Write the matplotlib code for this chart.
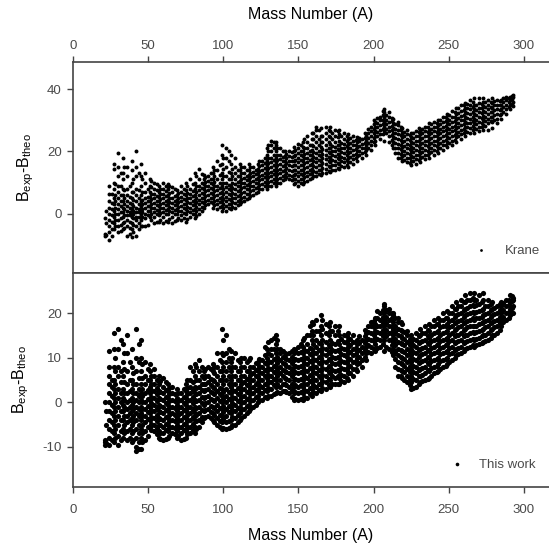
import matplotlib
matplotlib.use('Agg')
import matplotlib.pyplot as plt

# mass number of each column of points
mass = [21, 24, 27, 30, 33, 36, 39, 42, 45, 48, 51, 54, 57, 60, 63, 66, 69, 72, 75, 78, 81, 84, 87, 90,
        93, 96, 99, 102, 105, 108, 111, 114, 117, 120, 123, 126, 129, 132, 135, 138, 141, 144, 147, 150,
        153, 156, 159, 162, 165, 168, 171, 174, 177, 180, 183, 186, 189, 192, 195, 198, 201, 204, 207, 210,
        213, 216, 219, 222, 225, 228, 231, 234, 237, 240, 243, 246, 249, 252, 255, 258, 261, 264, 267, 270,
        273, 276, 279, 282, 285, 288, 291, 293]

krane = [
    [-7, -6.5, -1.5],
    [-8.5, -6, -4, -2, 0, 2, 4, 6.5, 9],
    [-5, -3, -1, 1, 3, 5, 8, 10, 14.5, 16],
    [-6, -4, -2, 0, 1.5, 3, 5, 7, 9, 12, 15, 19.5],
    [-5, -3, -1, 0.5, 2, 4, 6, 8, 11, 13, 18],
    [-7, -4, -2, -0.5, 1, 2.5, 4, 6, 8, 12, 15],
    [-7.5, -5, -3, -1, 0, 1.5, 3, 5, 7, 10, 14, 17],
    [-7, -4, -2, -1, 0.5, 2, 4, 6, 8, 12, 15, 20],
    [-4, -2, 0, 1, 2.5, 4, 6, 9, 12, 16],
    [-4, -1.5, 0, 2, 3.5, 5, 7, 10, 13],
    [-1, 1, 2.5, 4, 5.5, 7, 9, 11],
    [-3, -1, 0.5, 2, 3.5, 5, 6.5, 8, 10],
    [-2.5, -0.5, 1, 2.5, 4, 5.5, 7, 9],
    [-3, -1, 0.5, 2, 3.5, 5, 6.5, 8, 10],
    [-2.5, 0, 1.5, 3, 4.5, 6, 8, 9.5],
    [-3, -1, 0.5, 2, 3.5, 5, 7, 8.5],
    [-2, 0, 1.5, 3, 4.5, 6, 7.5],
    [-2, -0.5, 1, 2.5, 4, 5.5, 7, 9],
    [-2.5, 0, 1.5, 3, 4.5, 6, 7.5, 10],
    [-1, 0.5, 2, 3.5, 5, 6.5, 8, 11],
    [-1.5, 0, 1.5, 3, 4.5, 6, 8, 10, 13],
    [0, 1.5, 3, 4.5, 6, 7.5, 9, 11, 14.5],
    [2, 3.5, 5, 6.5, 8, 9.5, 11, 12.5],
    [3, 4.5, 6, 7.5, 9, 10.5, 12],
    [2, 3.5, 5, 6.5, 8, 9.5, 11, 13, 15],
    [1.5, 3, 4.5, 6, 7.5, 9, 11, 14, 17],
    [1, 2.5, 4, 5.5, 7, 9, 11, 13, 16, 19, 22],
    [1, 2.5, 4, 5.5, 7, 8.5, 10, 12, 15, 18, 21],
    [1.5, 3, 4.5, 6, 7.5, 9, 11, 13, 16, 19],
    [2, 3.5, 5, 6.5, 8, 9.5, 11, 13, 15, 18],
    [3, 4.5, 6, 7.5, 9, 10.5, 12, 14, 16],
    [4, 5.5, 7, 8.5, 10, 11.5, 13, 15],
    [5, 6.5, 8, 9.5, 11, 12.5, 14, 16],
    [6, 7.5, 9, 10.5, 12, 13.5, 15],
    [7, 8.5, 10, 11.5, 13, 14.5, 16],
    [8, 9.5, 11, 12.5, 14, 15.5, 17],
    [8, 9.5, 11, 12.5, 14, 15.5, 17, 19, 21],
    [9, 10.5, 12, 13.5, 15, 16.5, 18, 20, 22, 23.5],
    [9, 10.5, 12, 13.5, 15, 16.5, 18, 20, 22, 23],
    [10, 11.5, 13, 14.5, 16, 17.5, 19, 21],
    [11, 12.5, 14, 15.5, 17, 18.5, 20],
    [11, 12.5, 14, 15.5, 17, 18.5, 20],
    [9.5, 11, 12.5, 14, 15.5, 17, 18.5, 20, 21.5],
    [9, 10.5, 12, 13.5, 15, 16.5, 18, 19.5, 21, 22.5],
    [9.5, 11, 12.5, 14, 15.5, 17, 18.5, 20, 21.5, 23],
    [10.5, 12, 13.5, 15, 16.5, 18, 19.5, 21, 23, 25],
    [11.5, 13, 14.5, 16, 17.5, 19, 20.5, 22, 24, 26],
    [12, 13.5, 15, 16.5, 18, 19.5, 21, 23, 25, 27, 28],
    [12.5, 14, 15.5, 17, 18.5, 20, 21.5, 23, 25, 27.5],
    [13, 14.5, 16, 17.5, 19, 20.5, 22, 24, 26, 28],
    [13.5, 15, 16.5, 18, 19.5, 21, 22.5, 24.5, 26.5, 28],
    [14, 15.5, 17, 18.5, 20, 21.5, 23, 25, 27],
    [14.5, 16, 17.5, 19, 20.5, 22, 23.5, 25.5, 27],
    [15, 16.5, 18, 19.5, 21, 22.5, 24, 26],
    [15, 16.5, 18, 19.5, 21, 22.5, 24, 25.5],
    [16, 17.5, 19, 20.5, 22, 23.5, 25],
    [17, 18.5, 20, 21.5, 23, 24.5],
    [18, 19.5, 21, 22.5, 24],
    [19, 20.5, 22, 23.5, 25],
    [20.5, 22, 23.5, 25, 26.5, 28],
    [22, 23.5, 25, 26.5, 28, 29.5],
    [24, 25.5, 27, 28.5, 30, 31],
    [23.5, 26.5, 28, 29.5, 31, 32.5, 33.5],
    [23, 25, 26.5, 28, 29.5, 31, 32.5],
    [21, 23, 24.5, 26, 27.5, 29, 30.5],
    [18, 19.5, 21, 22.5, 24, 25.5, 27, 28.5, 29.5],
    [17, 18.5, 20, 21.5, 23, 24.5, 26, 27.5],
    [16.5, 18, 19.5, 21, 22.5, 24, 25.5, 27],
    [15.5, 17, 18.5, 20, 21.5, 23, 24.5, 26],
    [16, 17.5, 19, 20.5, 22, 23.5, 25, 26.5],
    [16.5, 18, 19.5, 21, 22.5, 24, 25.5, 27],
    [17.5, 19, 20.5, 22, 23.5, 25, 26.5, 28],
    [18, 19.5, 21, 22.5, 24, 25.5, 27, 29],
    [19, 20.5, 22, 23.5, 25, 26.5, 28, 29.5],
    [19.5, 21, 22.5, 24, 25.5, 27, 28.5, 30],
    [20.5, 22, 23.5, 25, 26.5, 28, 29.5, 31],
    [21.5, 23, 24.5, 26, 27.5, 29, 30.5, 32],
    [22, 23.5, 25, 26.5, 28, 29.5, 31, 33],
    [23, 24.5, 26, 27.5, 29, 30.5, 32, 34],
    [24, 25.5, 27, 28.5, 30, 31.5, 33, 35],
    [25, 26.5, 28, 29.5, 31, 32.5, 34, 35.5],
    [26, 27.5, 29, 30.5, 32, 33.5, 35, 36.5],
    [26, 27.5, 29, 30.5, 32, 33.5, 35, 37],
    [26.5, 28, 29.5, 31, 32.5, 34, 35.5, 37],
    [27, 28.5, 30, 31.5, 33, 34.5, 36, 37],
    [27, 29, 30.5, 32, 33.5, 35, 36.5],
    [27.5, 29.5, 31, 32.5, 34, 35.5, 37],
    [29, 30.5, 32, 33.5, 35, 36.5],
    [30.5, 32, 33.5, 35, 36.5],
    [32, 33.5, 35, 36.5, 37.5],
    [33.5, 35, 36.5, 37.5],
    [34.5, 36, 37.5, 38],
]

this_work = [
    [-9.5, -9, -8.5, 0],
    [-9.5, -8, -6, -4, -2, 0, 2, 4, 6, 8, 11.5],
    [-9, -7, -5, -3, -1, 1, 3, 5, 8, 12, 15.5],
    [-9.5, -7.5, -5, -3, -1, 1, 3, 6, 8, 12, 16.5],
    [-8, -6, -4, -2, -0.5, 1, 3, 6, 9, 13],
    [-8.5, -6.5, -4.5, -3, -1.5, 0, 2, 4, 7, 11, 15],
    [-9, -7, -5, -3.5, -2, -0.5, 1, 3, 5, 8, 12],
    [-11, -10, -8, -6, -4, -2.5, -1, 0.5, 2, 4, 7, 10, 16.5],
    [-10.5, -8, -6, -4, -2.5, -1, 0.5, 2, 4, 7, 10, 14],
    [-8.5, -6.5, -4.5, -3, -1.5, 0, 2, 4, 6, 9],
    [-5.5, -4, -2.5, -1, 0.5, 2, 3.5, 5, 7, 8.5],
    [-6.5, -5, -3.5, -2, -0.5, 1, 2.5, 4, 6, 7.5],
    [-8, -6.5, -5, -3.5, -2, -0.5, 1, 2.5, 4, 6],
    [-8.5, -7, -5.5, -4, -2.5, -1, 0.5, 2, 3.5, 5.5],
    [-8, -6.5, -5, -3.5, -2, -0.5, 1, 2.5, 4],
    [-7, -5.5, -4, -2.5, -1, 0.5, 2, 3.5],
    [-8, -6.5, -5, -3.5, -2, -0.5, 1, 3],
    [-8.5, -7, -5.5, -4, -2.5, -1, 0.5, 2],
    [-8, -6.5, -5, -3.5, -2, -0.5, 1, 2.5, 4],
    [-7, -5.5, -4, -2.5, -1, 0.5, 2, 3.5, 5, 8],
    [-7, -5.5, -4, -2.5, -1, 0.5, 2, 3.5, 6, 8.5],
    [-5.5, -4, -2.5, -1, 0.5, 2, 3.5, 5, 7, 9.5],
    [-3.5, -2, -0.5, 1, 2.5, 4, 5.5, 7],
    [-3, -1.5, 0, 1.5, 3, 4.5, 6, 8],
    [-4, -2.5, -1, 0.5, 2, 3.5, 5, 7, 8.5],
    [-5, -3.5, -2, -0.5, 1, 2.5, 4, 6, 8, 11],
    [-6, -4.5, -3, -1.5, 0, 1.5, 3, 5, 7, 9, 11, 16.5],
    [-6, -4.5, -3, -1.5, 0, 1.5, 3, 5, 7, 9, 11, 15],
    [-5.5, -4, -2.5, -1, 0.5, 2, 3.5, 5, 7, 9, 11.5],
    [-5, -3.5, -2, -0.5, 1, 2.5, 4, 6, 8, 11],
    [-4, -2.5, -1, 0.5, 2, 3.5, 5, 7, 9],
    [-3, -1.5, 0, 1.5, 3, 4.5, 6, 8, 10],
    [-2, -0.5, 1, 2.5, 4, 5.5, 7, 9.5],
    [-1, 0.5, 2, 3.5, 5, 6.5, 8],
    [0, 1.5, 3, 4.5, 6, 7.5, 9],
    [0.5, 2, 3.5, 5, 6.5, 8, 9.5],
    [1, 2.5, 4, 5.5, 7, 8.5, 10, 12],
    [1.5, 3, 4.5, 6, 7.5, 9, 10.5, 12, 14],
    [2, 3.5, 5, 6.5, 8, 9.5, 11, 13, 15],
    [2, 3.5, 5, 6.5, 8, 9.5, 11, 12],
    [2.5, 4, 5.5, 7, 8.5, 10, 11],
    [2, 3.5, 5, 6.5, 8, 9.5, 11],
    [0.5, 2, 3.5, 5, 6.5, 8, 9.5, 11, 12],
    [0.5, 2, 3.5, 5, 6.5, 8, 9.5, 11, 12.5],
    [0.5, 2, 3.5, 5, 6.5, 8, 9.5, 11, 12.5, 14],
    [1, 2.5, 4, 5.5, 7, 8.5, 10, 11.5, 13, 15],
    [1.5, 3, 4.5, 6, 7.5, 9, 10.5, 12, 14, 16, 18],
    [2, 3.5, 5, 6.5, 8, 9.5, 11, 12.5, 14, 16, 18.5],
    [2.5, 4, 5.5, 7, 8.5, 10, 11.5, 13, 15, 17, 19.5],
    [3, 4.5, 6, 7.5, 9, 10.5, 12, 13.5, 15.5, 17.5],
    [3.5, 5, 6.5, 8, 9.5, 11, 12.5, 14, 16, 18],
    [4, 5.5, 7, 8.5, 10, 11.5, 13, 15, 17],
    [4, 5.5, 7, 8.5, 10, 11.5, 13, 15, 17],
    [4.5, 6, 7.5, 9, 10.5, 12, 13.5, 15],
    [5, 6.5, 8, 9.5, 11, 12.5, 14, 15.5],
    [6, 7.5, 9, 10.5, 12, 13.5, 15],
    [7, 8.5, 10, 11.5, 13, 14],
    [8, 9.5, 11, 12.5, 14],
    [9.5, 11, 12.5, 14, 15.5],
    [11, 12.5, 14, 15.5, 17, 18],
    [11.5, 13, 14.5, 16, 17.5, 19],
    [12.5, 14, 15.5, 17, 18.5, 20],
    [11.5, 14, 15.5, 17, 18.5, 20, 21.5, 22],
    [12, 14, 15.5, 17, 18.5, 20, 21],
    [10.5, 12, 13.5, 15, 16.5, 18, 19.5, 20],
    [6, 7.5, 9, 10.5, 12, 13.5, 15, 16.5, 18, 19],
    [5.5, 7, 8.5, 10, 11.5, 13, 14.5, 16, 17.5],
    [4.5, 6, 7.5, 9, 10.5, 12, 13.5, 15, 16],
    [3, 4.5, 6, 7.5, 9, 10.5, 12, 13.5, 15],
    [3.5, 5, 6.5, 8, 9.5, 11, 12.5, 14, 15.5],
    [4.5, 6, 7.5, 9, 10.5, 12, 13.5, 15, 16.5],
    [5, 6.5, 8, 9.5, 11, 12.5, 14, 15.5, 17],
    [5.5, 7, 8.5, 10, 11.5, 13, 14.5, 16, 17.5],
    [6.5, 8, 9.5, 11, 12.5, 14, 15.5, 17, 18.5],
    [7, 8.5, 10, 11.5, 13, 14.5, 16, 17.5, 19],
    [8, 9.5, 11, 12.5, 14, 15.5, 17, 18.5, 20],
    [8.5, 10, 11.5, 13, 14.5, 16, 17.5, 19, 20.5],
    [9.5, 11, 12.5, 14, 15.5, 17, 18.5, 20, 21.5],
    [10.5, 12, 13.5, 15, 16.5, 18, 19.5, 21, 22.5],
    [11, 12.5, 14, 15.5, 17, 18.5, 20, 21.5, 23],
    [12, 13.5, 15, 16.5, 18, 19.5, 21, 22.5, 24],
    [12.5, 14, 15.5, 17, 18.5, 20, 21.5, 23, 24.5],
    [12.5, 14, 15.5, 17, 18.5, 20, 21.5, 23, 24.5],
    [13, 14.5, 16, 17.5, 19, 20.5, 22, 24],
    [13.5, 15, 16.5, 18, 19.5, 21, 23, 24.5],
    [14, 15.5, 17, 18.5, 20, 21.5, 23],
    [15, 16.5, 18, 19.5, 21, 22.5],
    [15.5, 17, 18.5, 20, 21.5],
    [17, 18.5, 20, 21.5, 22.5],
    [18.5, 20, 21.5, 23],
    [19.5, 21, 22.5, 24],
    [20, 21.5, 23, 23.5],
]

# in-between columns, the dense core of both clouds
mass_b = [22, 26, 28, 32, 34, 38, 40, 44, 46, 50, 52, 56, 58, 62, 64, 68, 70, 74, 76, 80, 82, 86, 88, 92,
          94, 98, 100, 104, 106, 110, 112, 116, 118, 122, 124, 128, 130, 134, 136, 140, 142, 146, 148, 152,
          154, 158, 160, 164, 166, 170, 172, 176, 178, 182, 184, 188, 190, 194, 196, 200, 202, 206, 208, 212,
          214, 218, 220, 224, 226, 230, 232, 236, 238, 242, 244, 248, 250, 254, 256, 260, 262, 266, 268, 272,
          274, 278, 280, 284, 286, 290, 292]

krane_b = [
    [-6.8, -3, 1],
    [-7, -5, -2.5, -0.5, 1.5, 3.5, 6.5],
    [-4, -2, 0, 2, 4, 6, 9.5],
    [-5.5, -3.5, -1.5, 0.5, 2.5, 4, 6, 9, 13],
    [-4.5, -2.5, -0.5, 1.5, 3, 5, 7.5, 15],
    [-6.5, -4.5, -2.5, -0.5, 0.5, 2, 3.5, 5.5, 9],
    [-6, -3.5, -1.5, 0, 1, 2.5, 4.5, 7, 11],
    [-5, -3, -1, 0.5, 1.5, 3, 5, 7.5, 13],
    [-4, -1, 0.5, 1.5, 3, 4.5, 7, 11],
    [-3.5, -0.5, 1, 2.5, 4, 5.5, 8],
    [-2, 0, 1.8, 3.2, 4.8, 6.2, 8.5, 10.5],
    [-2.5, -0.2, 1.2, 2.8, 4.2, 5.8, 7.5, 9.5],
    [-2, 0.2, 1.8, 3.2, 4.8, 6.2, 8],
    [-2.2, -0.2, 1.2, 2.8, 4.2, 5.8, 7.2, 9],
    [-1.8, 0.8, 2.2, 3.8, 5.2, 6.8, 8.8],
    [-2.2, -0.2, 1.2, 2.8, 4.2, 5.8, 7.8],
    [-1.2, 0.8, 2.2, 3.8, 5.2, 6.8],
    [-1.2, 0.2, 1.8, 3.2, 4.8, 6.2, 8],
    [-1.8, 0.8, 2.2, 3.8, 5.2, 6.8, 8.8],
    [-0.2, 1.2, 2.8, 4.2, 5.8, 7.2, 9.5],
    [-0.8, 0.8, 2.2, 3.8, 5.2, 7, 9, 12],
    [0.8, 2.2, 3.8, 5.2, 6.8, 8.2, 10, 12.8],
    [2.8, 4.2, 5.8, 7.2, 8.8, 10.2, 11.8],
    [3.8, 5.2, 6.8, 8.2, 9.8, 11.2, 13],
    [2.8, 4.2, 5.8, 7.2, 8.8, 10.2, 12, 14],
    [2.2, 3.8, 5.2, 6.8, 8.2, 10, 12.5, 15.5],
    [1.8, 3.2, 4.8, 6.2, 8, 10, 12, 14.5, 18],
    [1.8, 3.2, 4.8, 6.2, 7.8, 9.2, 11, 13.5, 17, 20],
    [2.2, 3.8, 5.2, 6.8, 8.2, 10, 12, 14.5],
    [2.8, 4.2, 5.8, 7.2, 8.8, 10.2, 12, 14],
    [3.8, 5.2, 6.8, 8.2, 9.8, 11.2, 13, 15],
    [4.8, 6.2, 7.8, 9.2, 10.8, 12.2, 14],
    [5.8, 7.2, 8.8, 10.2, 11.8, 13.2, 15],
    [6.8, 8.2, 9.8, 11.2, 12.8, 14.2],
    [7.8, 9.2, 10.8, 12.2, 13.8, 15.2, 17],
    [8.8, 10.2, 11.8, 13.2, 14.8, 16.2, 18],
    [8.8, 10.2, 11.8, 13.2, 14.8, 16.2, 18, 20, 22],
    [9.8, 11.2, 12.8, 14.2, 15.8, 17.2, 19, 21, 23],
    [9.8, 11.2, 12.8, 14.2, 15.8, 17.2, 19, 21],
    [10.8, 12.2, 13.8, 15.2, 16.8, 18.2, 20],
    [11.8, 13.2, 14.8, 16.2, 17.8, 19.2],
    [10.8, 12.2, 13.8, 15.2, 16.8, 18.2, 19.8],
    [9.8, 11.2, 12.8, 14.2, 15.8, 17.2, 18.8, 20.5],
    [9.8, 11.2, 12.8, 14.2, 15.8, 17.2, 18.8, 20.2, 22],
    [10.2, 11.8, 13.2, 14.8, 16.2, 17.8, 19.2, 21, 24],
    [11.2, 12.8, 14.2, 15.8, 17.2, 18.8, 20.2, 22],
    [12.2, 13.8, 15.2, 16.8, 18.2, 19.8, 21.8, 24, 26],
    [12.8, 14.2, 15.8, 17.2, 18.8, 20.2, 22, 24, 27],
    [13.2, 14.8, 16.2, 17.8, 19.2, 20.8, 23, 25],
    [13.8, 15.2, 16.8, 18.2, 19.8, 21.2, 23, 25, 27],
    [14.2, 15.8, 17.2, 18.8, 20.2, 21.8, 24, 26],
    [14.8, 16.2, 17.8, 19.2, 20.8, 22.2, 24.5, 26.5],
    [15.2, 16.8, 18.2, 19.8, 21.2, 22.8, 25],
    [15.8, 17.2, 18.8, 20.2, 21.8, 23.2, 24.8],
    [16.5, 18.2, 19.8, 21.2, 22.8, 24.2],
    [17.8, 19.2, 20.8, 22.2, 23.8],
    [18.8, 20.2, 21.8, 23.2, 24.2],
    [19.8, 21.2, 22.8, 24.2, 25.8],
    [21.2, 22.8, 24.2, 25.8, 27.2],
    [23, 24.2, 25.8, 27.2, 28.8, 30],
    [24.8, 26.2, 27.8, 29.2, 30.8],
    [25.5, 27.2, 28.8, 30.2, 31.8, 33],
    [25.8, 27.2, 28.8, 30.2, 31.8],
    [22.2, 23.8, 25.2, 26.8, 28.2, 29.8, 30.8],
    [19.5, 21.2, 22.8, 24.2, 25.8, 27.2, 28.8],
    [17.8, 19.2, 20.8, 22.2, 23.8, 25.2, 26.8, 28],
    [17.2, 18.8, 20.2, 21.8, 23.2, 24.8, 26.2],
    [16.2, 17.8, 19.2, 20.8, 22.2, 23.8, 25.2],
    [16.8, 18.2, 19.8, 21.2, 22.8, 24.2, 25.8],
    [17.2, 18.8, 20.2, 21.8, 23.2, 24.8, 26.2, 27.5],
    [18.2, 19.8, 21.2, 22.8, 24.2, 25.8, 27.2],
    [18.8, 20.2, 21.8, 23.2, 24.8, 26.2, 27.8],
    [19.8, 21.2, 22.8, 24.2, 25.8, 27.2, 28.8],
    [20.2, 21.8, 23.2, 24.8, 26.2, 27.8, 29.2],
    [21.2, 22.8, 24.2, 25.8, 27.2, 28.8, 30.2],
    [22.2, 23.8, 25.2, 26.8, 28.2, 29.8, 31.2],
    [22.8, 24.2, 25.8, 27.2, 28.8, 30.2, 31.8],
    [23.8, 25.2, 26.8, 28.2, 29.8, 31.2, 32.8],
    [24.8, 26.2, 27.8, 29.2, 30.8, 32.2, 33.8],
    [25.8, 27.2, 28.8, 30.2, 31.8, 33.2, 34.8],
    [26.2, 27.8, 29.2, 30.8, 32.2, 33.8, 35.2],
    [26.8, 28.2, 29.8, 31.2, 32.8, 34.2, 35.8],
    [27.2, 28.8, 30.2, 31.8, 33.2, 34.8],
    [27.8, 29.2, 30.8, 32.2, 33.8, 35.2],
    [28.2, 29.8, 31.2, 32.8, 34.2, 35.8],
    [29.8, 31.2, 32.8, 34.2, 35.8],
    [30.2, 31.8, 33.2, 34.8, 36.2],
    [31.8, 33.2, 34.8, 36.2],
    [32.8, 34.2, 35.8, 37],
    [34.2, 35.8, 37],
    [35.2, 36.8, 37.8],
]

this_work_b = [
    [-9.2, -5, -2],
    [-8.5, -6.5, -4.5, -2.5, -0.5, 1.5, 3.5, 5],
    [-8, -6, -4, -2, 0, 2, 4, 7, 10],
    [-8.5, -6.5, -4, -2, 0, 2, 4.5, 7, 14],
    [-7, -5, -3, -1, 0.5, 2, 4.5, 7.5, 11],
    [-8, -6, -4, -2.5, -1, 0.5, 2.5, 5, 9],
    [-8.5, -6.5, -4.5, -3, -1.5, 0, 2, 4, 6.5],
    [-10.5, -9, -7, -5, -3, -1.5, 0, 1.5, 3, 5.5, 9, 13],
    [-9, -7, -5, -3, -1.5, 0, 1.5, 3, 5.5, 8.5],
    [-7.5, -5.5, -3.8, -2.2, -0.8, 0.8, 2.8, 5, 7.5],
    [-6.2, -4.8, -3.2, -1.8, -0.2, 1.2, 2.8, 4.2, 6],
    [-7.2, -5.8, -4.2, -2.8, -1.2, 0.2, 1.8, 3.2, 5],
    [-8.2, -6.8, -5.2, -3.8, -2.2, -0.8, 0.8, 2.2, 4.8],
    [-8.2, -6.2, -4.8, -3.2, -1.8, -0.2, 1.2, 2.8, 4.5],
    [-7.5, -5.8, -4.2, -2.8, -1.2, 0.2, 1.8, 3.2],
    [-7.2, -5.8, -4.2, -2.8, -1.2, 0.2, 1.8],
    [-7.5, -5.8, -4.2, -2.8, -1.2, 0.2, 2],
    [-8.2, -6.2, -4.8, -3.2, -1.8, -0.2, 1.2, 3],
    [-7.2, -5.8, -4.2, -2.8, -1.2, 0.2, 1.8, 3.2, 5],
    [-6.2, -4.8, -3.2, -1.8, -0.2, 1.2, 2.8, 4.5, 7],
    [-6, -4.2, -2.8, -1.2, 0.2, 1.8, 3.2, 5, 8],
    [-4.5, -3.2, -1.8, -0.2, 1.2, 2.8, 4.2, 6, 8],
    [-3.2, -1.8, -0.2, 1.2, 2.8, 4.2, 5.8, 7.5],
    [-3.5, -2.2, -0.8, 0.8, 2.2, 3.8, 5.2, 7.5],
    [-4.5, -2.8, -1.2, 0.2, 1.8, 3.2, 4.8, 6.5, 8],
    [-5.5, -4.2, -2.8, -1.2, 0.2, 1.8, 3.2, 5, 7, 9.5],
    [-5.8, -3.8, -2.2, -0.8, 0.8, 2.2, 4, 6, 8, 10.5, 14],
    [-5.8, -4.2, -2.2, -0.8, 0.8, 2.2, 4, 6, 8, 10, 12],
    [-5.2, -3.2, -1.8, -0.2, 1.2, 2.8, 4.2, 6, 8, 10],
    [-4.5, -2.8, -1.2, 0.2, 1.8, 3.2, 5, 7, 9.5],
    [-3.5, -1.8, -0.2, 1.2, 2.8, 4.2, 6, 8, 10],
    [-2.5, -0.8, 0.8, 2.2, 3.8, 5.2, 7, 9],
    [-1.5, 0.2, 1.8, 3.2, 4.8, 6.2, 8, 10],
    [-0.5, 1.2, 2.8, 4.2, 5.8, 7.2, 8.8],
    [0.5, 2.2, 3.8, 5.2, 6.8, 8.2, 9.8],
    [1.2, 2.8, 4.2, 5.8, 7.2, 8.8, 10.5, 12.5],
    [1.5, 3.2, 4.8, 6.2, 7.8, 9.2, 11, 13.5],
    [1.8, 3.8, 5.2, 6.8, 8.2, 9.8, 12, 14.5],
    [2.2, 4.2, 5.8, 7.2, 8.8, 10.2, 12, 14],
    [2.5, 4.2, 5.8, 7.2, 8.8, 10.2, 11.5],
    [2.2, 3.8, 5.2, 6.8, 8.2, 9.8, 10.8],
    [1.2, 2.8, 4.2, 5.8, 7.2, 8.8, 10.2, 11.5],
    [0.8, 2.2, 3.8, 5.2, 6.8, 8.2, 9.8, 11.8],
    [0.8, 2.2, 3.8, 5.2, 6.8, 8.2, 9.8, 11.2, 13],
    [1.2, 2.8, 4.2, 5.8, 7.2, 8.8, 10.2, 11.8, 14.5],
    [1.8, 3.2, 4.8, 6.2, 7.8, 9.2, 10.8, 12.2, 15, 17],
    [2.2, 3.8, 5.2, 6.8, 8.2, 9.8, 11.2, 13, 15, 17.5],
    [2.8, 4.2, 5.8, 7.2, 8.8, 10.2, 11.8, 13.2, 16],
    [3.2, 4.8, 6.2, 7.8, 9.2, 10.8, 12.2, 14, 16.5, 18.5],
    [3.8, 5.2, 6.8, 8.2, 9.8, 11.2, 12.8, 15, 17],
    [4.2, 5.8, 7.2, 8.8, 10.2, 11.8, 13.2, 16],
    [4.2, 5.8, 7.2, 8.8, 10.2, 11.8, 13.8, 16],
    [4.8, 6.2, 7.8, 9.2, 10.8, 12.2, 14.2],
    [5.5, 7.2, 8.8, 10.2, 11.8, 13.2, 14.8],
    [6.5, 8.2, 9.8, 11.2, 12.8, 14.2],
    [7.5, 9.2, 10.8, 12.2, 13.5],
    [8.8, 10.2, 11.8, 13.2, 14.8],
    [10.2, 11.8, 13.2, 14.8, 16.2],
    [11.2, 12.8, 14.2, 15.8, 17.2],
    [12, 13.8, 15.2, 16.8, 18.2],
    [12.2, 14.2, 15.8, 17.2, 18.8, 20.5],
    [13, 14.8, 16.2, 17.8, 19.2, 20.8],
    [12.5, 14.8, 16.2, 17.8, 19.2, 20.8],
    [11.2, 12.8, 14.2, 15.8, 17.2, 18.8, 20],
    [8, 9.8, 11.2, 12.8, 14.2, 15.8, 17.2, 19],
    [5.8, 7.2, 8.8, 10.2, 11.8, 13.2, 14.8, 16.2, 18],
    [5, 6.8, 8.2, 9.8, 11.2, 12.8, 14.2, 15.8],
    [3.8, 5.2, 6.8, 8.2, 9.8, 11.2, 12.8, 14.2],
    [3.2, 5.2, 6.8, 8.2, 9.8, 11.2, 12.8, 14.2],
    [4, 5.8, 7.2, 8.8, 10.2, 11.8, 13.2, 14.8],
    [4.8, 6.2, 7.8, 9.2, 10.8, 12.2, 13.8, 15.5],
    [5.2, 7.2, 8.8, 10.2, 11.8, 13.2, 14.8, 16.2],
    [6, 7.8, 9.2, 10.8, 12.2, 13.8, 15.2, 17],
    [6.8, 8.2, 9.8, 11.2, 12.8, 14.2, 15.8, 17.5],
    [7.5, 9.2, 10.8, 12.2, 13.8, 15.2, 16.8, 18.5],
    [8.2, 9.8, 11.2, 12.8, 14.2, 15.8, 17.2, 19],
    [9, 10.8, 12.2, 13.8, 15.2, 16.8, 18.2, 20],
    [10, 11.8, 13.2, 14.8, 16.2, 17.8, 19.2, 21],
    [10.8, 12.2, 13.8, 15.2, 16.8, 18.2, 19.8, 21.5],
    [11.5, 13.2, 14.8, 16.2, 17.8, 19.2, 20.8, 22.5],
    [12.2, 13.8, 15.2, 16.8, 18.2, 19.8, 21.2, 23],
    [12.8, 14.2, 15.8, 17.2, 18.8, 20.2, 21.8, 23.5],
    [12.8, 14.2, 15.8, 17.2, 18.8, 20.2, 21.8, 23],
    [13.2, 14.8, 16.2, 17.8, 19.2, 20.8, 22.5],
    [13.8, 15.2, 16.8, 18.2, 19.8, 21.5],
    [14.5, 16.2, 17.8, 19.2, 20.8, 22],
    [15.2, 16.8, 18.2, 19.8, 21.2],
    [16.2, 17.8, 19.2, 20.8, 22],
    [18, 19.2, 20.8, 22.2],
    [19, 20.2, 21.8, 23],
    [20, 21.2, 22.8, 23.8],
]

x_ticks = [0, 50, 100, 150, 200, 250, 300]
krane_ticks = [0, 20, 40]
work_ticks = [-10, 0, 10, 20]

W, H = 549, 547
GREY = '#4a4a4a'
plt.rcParams['font.family'] = ['Liberation Sans', 'DejaVu Sans']
plt.rcParams['mathtext.default'] = 'regular'
plt.rcParams['axes.unicode_minus'] = False
plt.rcParams['text.color'] = GREY
plt.rcParams['axes.edgecolor'] = '#444444'
plt.rcParams['xtick.color'] = '#444444'
plt.rcParams['ytick.color'] = '#444444'
plt.rcParams['xtick.labelcolor'] = GREY
plt.rcParams['ytick.labelcolor'] = GREY

fig = plt.figure(figsize=(W / 100, H / 100), dpi=100)
ax1 = fig.add_axes([73 / W, 1 - 273 / H, 476 / W, 211 / H])
ax2 = fig.add_axes([73 / W, 1 - 487 / H, 476 / W, 214 / H])


def flatten(masses, columns):
    xs, ys = [], []
    for a, vals in zip(masses, columns):
        for v in vals:
            xs.append(a)
            ys.append(v)
    return xs, ys


xs, ys = flatten(mass, krane)
xs2, ys2 = flatten(mass_b, krane_b)
ax1.scatter(xs + xs2, ys + ys2, s=8, c='black', lw=0, label='Krane')
xs, ys = flatten(mass, this_work)
xs2, ys2 = flatten(mass_b, this_work_b)
ax2.scatter(xs + xs2, ys + ys2, s=14, c='black', lw=0, label='This work')

ax1.set_xlim(0, 316.7)
ax1.set_ylim(-19, 48.7)
ax2.set_xlim(0, 316.7)
ax2.set_ylim(-19, 29)

ax1.set_xticks(x_ticks)
ax1.set_yticks(krane_ticks)
ax2.set_xticks(x_ticks)
ax2.set_yticks(work_ticks)

ax1.xaxis.tick_top()
ax1.xaxis.set_label_position('top')
ax1.set_xlabel('Mass Number (A)', fontsize=11.5, labelpad=15)
ax2.set_xlabel('Mass Number (A)', fontsize=11.5, labelpad=9)
ax1.set_ylabel('B$_{exp}$-B$_{theo}$', fontsize=11.5, labelpad=8)
ax2.set_ylabel('B$_{exp}$-B$_{theo}$', fontsize=11.5, labelpad=8)

for ax in (ax1, ax2):
    ax.tick_params(axis='y', labelsize=9.5, length=4, width=1, pad=4)
    ax.spines['right'].set_visible(False)
    for s in ax.spines.values():
        s.set_linewidth(1.2)
ax1.tick_params(axis='x', labelsize=9.5, length=4, width=1, pad=3)
ax2.tick_params(axis='x', labelsize=9.5, length=4, width=1, pad=8)

ax1.legend(loc='center left', bbox_to_anchor=(0.805, 0.105), frameon=False, fontsize=9.5,
           handletextpad=0.8, markerscale=0.7)
ax2.legend(loc='center left', bbox_to_anchor=(0.755, 0.105), frameon=False, fontsize=9.5,
           handletextpad=0.6, markerscale=0.7)

fig.savefig('out.png', dpi=100)
